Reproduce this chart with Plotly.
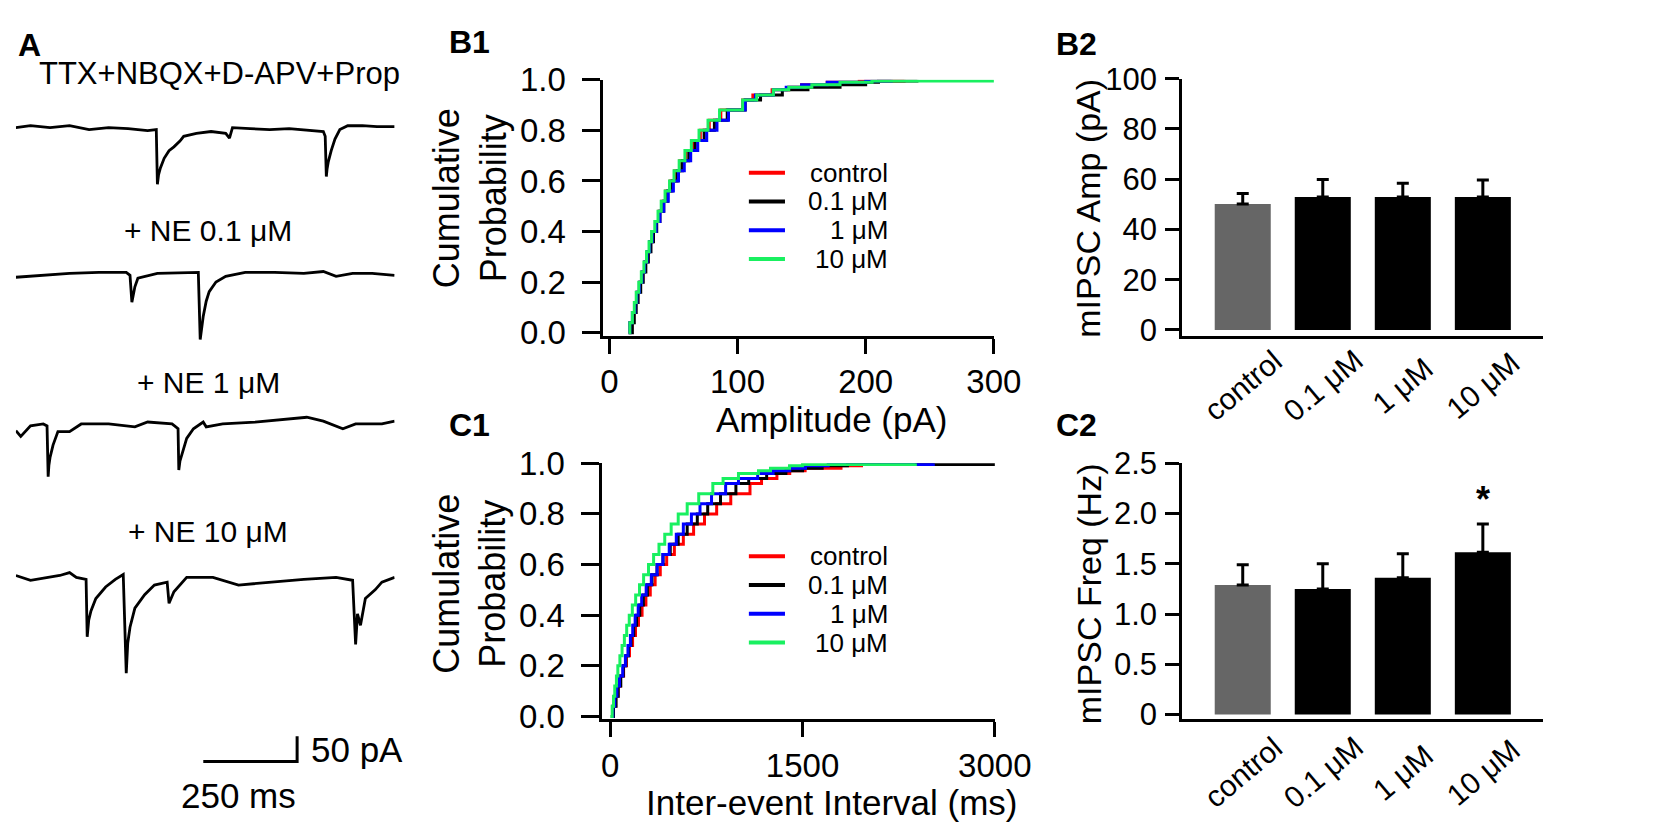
import plotly.graph_objects as go

W, H = 1668, 828
FONT = "Liberation Sans, Arial, sans-serif"
NARROW = "Liberation Sans Narrow, Arial Narrow, Liberation Sans, sans-serif"

# ---------------- data ----------------
CDF_P = [0.00, 0.04, 0.08, 0.12, 0.16, 0.20, 0.24, 0.28, 0.32, 0.36,
         0.40, 0.44, 0.48, 0.52, 0.56, 0.60, 0.64, 0.68, 0.72, 0.76,
         0.80, 0.84, 0.88, 0.92, 0.94, 0.96, 0.97, 0.98, 0.99, 0.995, 1.00]

AMP_CONTROL = [15, 16, 18.5, 20, 21.5, 23.5, 25.5, 27.5, 29.5, 31.5,
               33.5, 36, 38.5, 41, 44, 47.5, 51, 55, 59.5, 65,
               71, 78, 87, 104, 112, 127, 140, 150, 170, 195, 230]
AMP_01 = [17, 18, 19.5, 21, 22.5, 24.5, 26.5, 28.5, 30.5, 32.5,
          34.5, 37, 39.5, 42.5, 45.5, 49, 53, 57, 62, 67,
          74, 82, 92, 106, 118, 135, 155, 180, 200, 210, 240]
AMP_1 = [15, 16, 18, 20, 21.5, 23.5, 25.5, 27.5, 29.5, 31.5,
         33.5, 36.5, 39.5, 42.5, 46, 50, 54, 58.5, 63.5, 69,
         76, 84, 93, 106, 114, 128, 138, 150, 170, 200, 220]
AMP_10 = [15, 16, 18, 19.5, 21, 23, 25, 27, 29, 31,
          33, 35.5, 38, 40.5, 43.5, 47, 50.5, 54.5, 59, 64,
          70, 77, 86, 104, 115, 128, 140, 158, 180, 205, 300]

IEI_CONTROL = [10, 22, 42, 60, 80, 104, 126, 150, 174, 197,
               220, 248, 278, 312, 350, 390, 440, 500, 570, 650,
               735, 830, 940, 1090, 1180, 1300, 1400, 1520, 1800, 1960, 2100]
IEI_01 = [10, 25, 45, 62, 82, 102, 122, 142, 162, 183,
          205, 230, 258, 290, 325, 365, 412, 468, 530, 600,
          679, 760, 860, 980, 1080, 1220, 1370, 1500, 1653, 1850, 3100]
IEI_1 = [8, 20, 35, 52, 72, 97, 118, 138, 157, 175,
         194, 218, 245, 280, 320, 365, 410, 460, 515, 570,
         633, 700, 790, 900, 1000, 1150, 1270, 1400, 1523, 1700, 2520]
IEI_10 = [0, 15, 25, 35, 48, 59, 75, 92, 110, 128,
          148, 172, 198, 228, 260, 298, 338, 380, 425, 475,
          530, 600, 690, 800, 880, 1000, 1156, 1250, 1398, 1500, 2380]

GROUPS = ["control", "0.1 μM", "1 μM", "10 μM"]
GROUP_COLORS = ["#FF0000", "#000000", "#0000FF", "#19F060"]
BAR_COLORS = ["#666666", "#000000", "#000000", "#000000"]

AMP_MEAN = [50.1, 52.9, 52.9, 52.9]
AMP_SEM = [4.2, 7.0, 5.5, 6.8]
FREQ_MEAN = [1.29, 1.25, 1.36, 1.615]
FREQ_SEM = [0.20, 0.25, 0.24, 0.28]
SIG_MARK = ["", "", "", "*"]

AMP_TICKS = [0, 100, 200, 300]
IEI_TICKS = [0, 1500, 3000]
PROB_TICKS = [0.0, 0.2, 0.4, 0.6, 0.8, 1.0]
AMPBAR_TICKS = [0, 20, 40, 60, 80, 100]
FREQ_TICKS = [0, 0.5, 1.0, 1.5, 2.0, 2.5]
FREQ_TICKTEXT = ["0", "0.5", "1.0", "1.5", "2.0", "2.5"]

# example traces (time in ms, current in pA, relative to baseline)
TRACE_LABELS = ["TTX+NBQX+D-APV+Prop", "+ NE 0.1 μM", "+ NE 1 μM", "+ NE 10 μM"]
T1_MS = [0, 39, 91, 143, 195, 247, 299, 351, 374, 377, 380, 385, 395, 408, 421, 437, 447, 481, 520,
         559, 569, 577, 624, 676, 728, 780, 819, 824, 827, 829, 832, 840, 850, 863, 884, 923, 962, 1009]
T1_PA = [3.8, 7.6, 3.8, 7.6, 0, 3.8, 1.9, -1.9, 0, -108.3, -90, -76, -57, -41.8, -34.2, -22.8, -13.3, -7.6, -3.8,
         -7.6, -17.1, 3.8, 1.9, 0, 1.9, -1.9, -3.8, -13.3, -93.1, -78, -64.6, -41.8, -19, 0, 7.6, 7.6, 5.7, 5.7]
T2_MS = [0, 65, 143, 221, 294, 304, 309, 317, 325, 377, 442, 486, 491, 495, 499, 507, 515, 533, 559,
         611, 689, 767, 819, 853, 897, 949, 1009]
T2_PA = [-3.8, 0, 3.8, 5.7, 5.7, 0, -53.2, -22.8, -5.7, 3.8, 5.7, 5.7, -127.3, -100, -81.7, -51.3, -32.3, -13.3,
         -1.9, 5.7, 5.7, 3.8, 7.6, -1.9, 3.8, 3.8, 0]
T3_MS = [0, 13, 39, 73, 83, 86, 88, 91, 99, 112, 143, 174, 247, 317, 351, 416, 432, 434, 437, 442, 455, 473,
         499, 507, 551, 637, 723, 775, 819, 871, 905, 975, 1009]
T3_PA = [-9.5, -20.9, 0, 3.8, 0, -100.7, -78, -62.7, -38, -11.4, -11.4, 3.8, 3.8, -1.9, 7.6, 3.8, -5.7, -87.4,
         -70, -57, -24.7, -5.7, 7.6, -1.9, 3.8, 7.6, 13.3, 17.1, 9.5, -5.7, 3.8, 3.8, 9.5]
T4_MS = [0, 39, 117, 143, 161, 187, 190, 194, 200, 213, 239, 265, 286, 294, 298, 304, 317, 343, 369, 403, 408,
         421, 455, 525, 593, 681, 767, 853, 897, 905, 910, 918, 931, 957, 975, 1009]
T4_PA = [3.8, -5.7, 3.8, 9.5, 0, -3.8, -117.8, -85, -66.5, -41.8, -19, -3.8, 5.7, -190, -130, -98.8, -60.8,
         -34.2, -15.2, -9.5, -51.3, -28.5, 0, 0, -15.2, -9.5, -3.8, 0, -5.7, -133, -72.2, -95, -41.8, -24.7,
         -9.5, 0]
SCALE_MS = 250
SCALE_PA = 50

# ---------------- layout helpers (pixel -> paper) ----------------
def dx(a, b):
    return [a / W, b / W]


def dy(top, bottom):
    return [1 - bottom / H, 1 - top / H]


def px(x):
    return x / W


def py(y):
    return 1 - y / H


annotations = []
shapes = []


def txt(x, y, text, size, xanchor="center", bold=False, angle=0, yanchor="middle", family=FONT):
    if bold:
        text = "<b>" + text + "</b>"
    annotations.append(dict(x=px(x), y=py(y), xref="paper", yref="paper", text=text,
                            showarrow=False, xanchor=xanchor, yanchor=yanchor, textangle=angle,
                            font=dict(family=family, size=size, color="black")))


fig = go.Figure()

# ---------------- panel A: traces ----------------
traces_a = [(T1_MS, T1_PA), (T2_MS, T2_PA), (T3_MS, T3_PA), (T4_MS, T4_PA)]
bases = [108, 260, 417, 575]
MS_PER_PX = 2.6
PA_PER_PX = 1.9
for i, ((tm, pa), b) in enumerate(zip(traces_a, bases)):
    n = 5 + i
    top, bot = b - 30, (b + 110 if i < 3 else b + 215)
    fig.add_trace(go.Scatter(x=tm, y=pa, mode="lines", line=dict(color="black", width=2.8),
                             xaxis=f"x{n}", yaxis=f"y{n}", showlegend=False, hoverinfo="skip"))
    fig.layout[f"xaxis{n}"] = dict(domain=dx(5, 393), range=[0, (393 - 5) * MS_PER_PX], visible=False,
                                   anchor=f"y{n}")
    fig.layout[f"yaxis{n}"] = dict(domain=dy(top, bot), range=[(b - bot) * PA_PER_PX, (b - top) * PA_PER_PX],
                                   visible=False, anchor=f"x{n}")

# scale bar in the last trace's axes
SB_X0 = (197 - 5) * MS_PER_PX
SB_Y0 = (575 - 767) * PA_PER_PX
fig.add_trace(go.Scatter(x=[SB_X0, SB_X0 + SCALE_MS, SB_X0 + SCALE_MS], y=[SB_Y0, SB_Y0, SB_Y0 + SCALE_PA],
                         mode="lines", line=dict(color="black", width=3), xaxis="x8", yaxis="y8",
                         showlegend=False, hoverinfo="skip"))
txt(305, 755, f"{SCALE_PA} pA", 35, xanchor="left")
txt(233, 802, f"{SCALE_MS} ms", 35)

txt(214, 50, TRACE_LABELS[0], 31)
for lab, yy in zip(TRACE_LABELS[1:], [213, 372, 527]):
    txt(202, yy, lab, 30)
txt(19, 20, "A", 32, bold=True)

# ---------------- panels B1 / C1: cumulative ----------------
amp_sets = [AMP_CONTROL, AMP_01, AMP_1, AMP_10]
iei_sets = [IEI_CONTROL, IEI_01, IEI_1, IEI_10]
for vals, col in zip(amp_sets, GROUP_COLORS):
    fig.add_trace(go.Scatter(x=vals, y=CDF_P, mode="lines", line=dict(color=col, width=3, shape="hv"),
                             xaxis="x", yaxis="y", showlegend=False, hoverinfo="skip"))
for vals, col in zip(iei_sets, GROUP_COLORS):
    fig.add_trace(go.Scatter(x=vals, y=CDF_P, mode="lines", line=dict(color=col, width=3, shape="hv"),
                             xaxis="x2", yaxis="y2", showlegend=False, hoverinfo="skip"))

axis_common = dict(showline=True, linewidth=3, linecolor="black", showgrid=False, zeroline=False,
                   ticks="outside", tickwidth=3, tickcolor="black",
                   tickfont=dict(family=FONT, size=33, color="black"))

# B1 : 0 at px 613, 300 at px 1007
amp_ppx = (1007 - 613) / 300
fig.layout.xaxis = dict(domain=dx(607, 1007), range=[(607 - 613) / amp_ppx, 300], tickvals=AMP_TICKS,
                        ticklen=15, anchor="y", **axis_common)
fig.layout.yaxis = dict(domain=dy(56, 323), range=[-3 / 264, 1.0], tickvals=PROB_TICKS, tickformat=".1f",
                        ticklen=18, anchor="x", ticklabelstandoff=10, **axis_common)
# C1 : 0 at px 614, 3000 at px 1008
iei_ppx = (1008 - 614) / 3000
fig.layout.xaxis2 = dict(domain=dx(606, 1008), range=[(606 - 614) / iei_ppx, 3000], tickvals=IEI_TICKS,
                         ticklen=15, anchor="y2", **axis_common)
fig.layout.yaxis2 = dict(domain=dy(456, 723), range=[-3 / 264, 1.0], tickvals=PROB_TICKS, tickformat=".1f",
                         ticklen=18, anchor="x2", ticklabelstandoff=10, **axis_common)

txt(470, 17, "B1", 32, bold=True)
txt(470, 416, "C1", 32, bold=True)
txt(470, 180, "Cumulative<br>Probability", 36, angle=-90)
txt(470, 582, "Cumulative<br>Probability", 36, angle=-90)
txt(841, 410, "Amplitude (pA)", 35)
txt(841, 810, "Inter-event Interval (ms)", 35)

# legends
for rows in ([153, 183, 213, 243], [553, 583, 613, 643]):
    for g, col, yy in zip(GROUPS, GROUP_COLORS, rows):
        shapes.append(dict(type="line", xref="paper", yref="paper", x0=px(756), x1=px(793),
                           y0=py(yy), y1=py(yy), line=dict(color=col, width=4)))
        txt(901, yy, g, 26, xanchor="right")

# ---------------- panels B2 / C2: bars ----------------
fig.add_trace(go.Bar(x=GROUPS, y=AMP_MEAN, marker=dict(color=BAR_COLORS, line=dict(width=0)), width=0.7,
                     error_y=dict(type="data", symmetric=False, array=AMP_SEM, arrayminus=[0] * 4,
                                  color="black", thickness=3, width=6),
                     xaxis="x3", yaxis="y3", showlegend=False, hoverinfo="skip"))
fig.add_trace(go.Bar(x=GROUPS, y=FREQ_MEAN, marker=dict(color=BAR_COLORS, line=dict(width=0)), width=0.7,
                     error_y=dict(type="data", symmetric=False, array=FREQ_SEM, arrayminus=[0] * 4,
                                  color="black", thickness=3, width=6),
                     xaxis="x4", yaxis="y4", showlegend=False, hoverinfo="skip"))

bar_x = dict(showline=True, linewidth=3, linecolor="black", showgrid=False, zeroline=False,
             showticklabels=False, ticks="", type="category", range=[-0.756, 3.756])
bar_y = dict(showline=True, linewidth=3, linecolor="black", showgrid=False, zeroline=False,
             ticks="outside", ticklen=14, tickwidth=3, tickcolor="black", ticklabelstandoff=2,
             tickfont=dict(family=NARROW, size=31, color="black"))
fig.layout.xaxis3 = dict(domain=dx(1200, 1570), anchor="y3", **bar_x)
fig.layout.yaxis3 = dict(domain=dy(55, 323), range=[-6 / 2.62, 100], tickvals=AMPBAR_TICKS, anchor="x3", **bar_y)
fig.layout.xaxis4 = dict(domain=dx(1200, 1570), anchor="y4", **bar_x)
fig.layout.yaxis4 = dict(domain=dy(456, 723), range=[-5 / (262 / 2.5), 2.5], tickvals=FREQ_TICKS,
                         ticktext=FREQ_TICKTEXT, anchor="x4", **bar_y)

for g in GROUPS:
    for xr, yy in (("x3", 375), ("x4", 778)):
        annotations.append(dict(x=g, y=py(yy), xref=xr, yref="paper", text=g, showarrow=False,
                                textangle=-40, xanchor="center", yanchor="middle",
                                font=dict(family=FONT, size=30, color="black")))
for g, m, e, s in zip(GROUPS, FREQ_MEAN, FREQ_SEM, SIG_MARK):
    if s:
        annotations.append(dict(x=g, y=m + e, xref="x4", yref="y4", text=f"<b>{s}</b>", showarrow=False,
                                xanchor="center", yanchor="bottom", yshift=2,
                                font=dict(family=FONT, size=36, color="black")))

txt(1092, 19, "B2", 32, bold=True)
txt(1092, 416, "C2", 32, bold=True)
txt(1104, 190, "mIPSC Amp (pA)", 34, angle=-90)
txt(1104, 592, "mIPSC Freq (Hz)", 34, angle=-90)

fig.update_layout(width=W, height=H, margin=dict(l=0, r=0, t=0, b=0), paper_bgcolor="white",
                  plot_bgcolor="white", annotations=annotations, shapes=shapes, showlegend=False,
                  bargap=0.3)
fig.write_html("out.html")
